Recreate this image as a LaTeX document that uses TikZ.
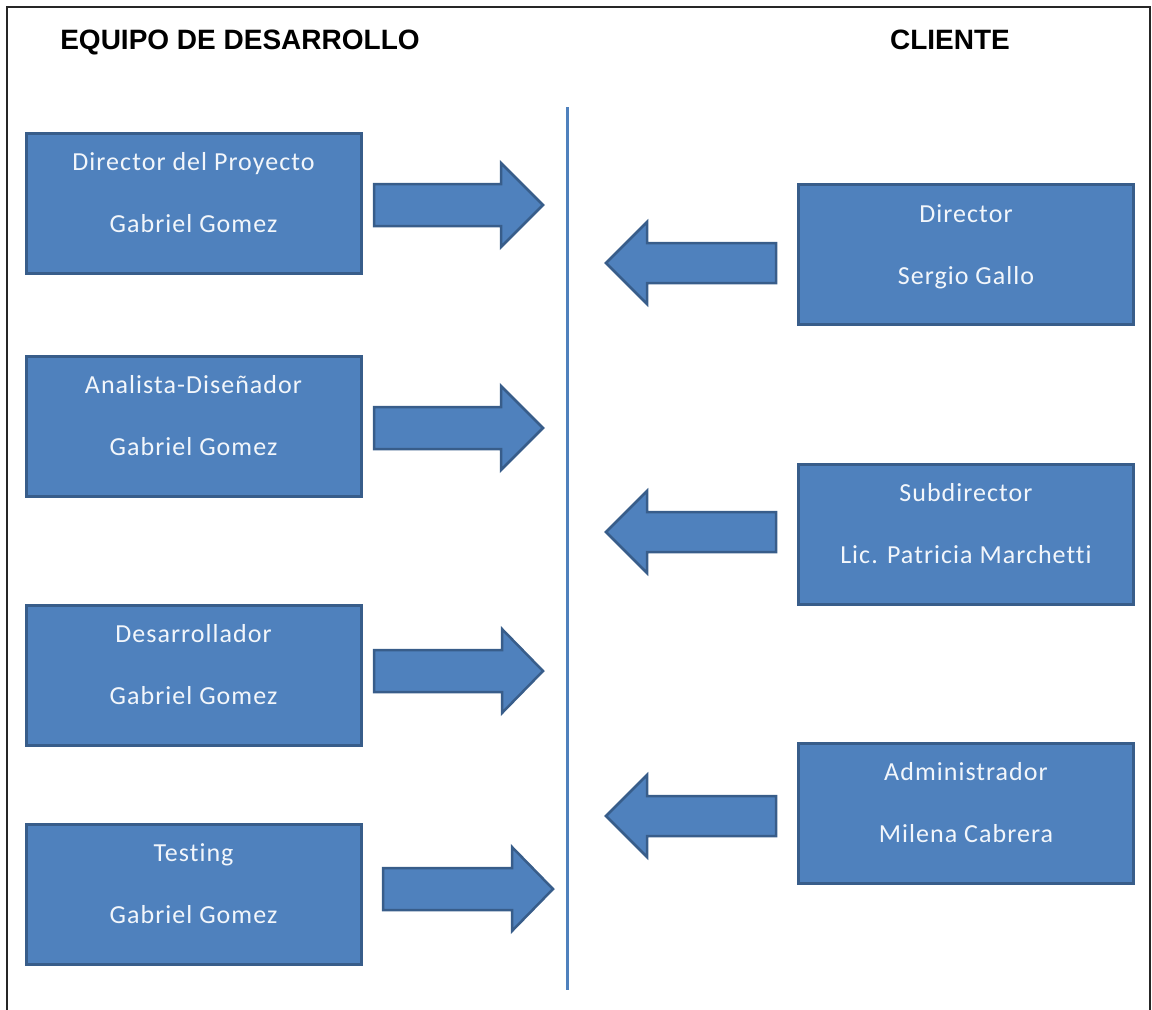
\documentclass[tikz,border=0pt]{standalone}
\usepackage{fontspec}
\setmainfont{Carlito}
\newfontfamily\boxfont{Carlito}[LetterSpace=4,Ligatures={NoCommon,NoRequired,NoContextual}]
\newfontfamily\titlefont{Liberation Sans}
\definecolor{boxfill}{HTML}{4F81BD}
\definecolor{boxline}{HTML}{385D8A}
\definecolor{boxtext}{HTML}{F2F6FB}
\newcommand{\twolines}[2]{\raisebox{1pt}[0pt][0pt]{\begin{tabular}{@{}c@{}}#1\\[31pt]#2\end{tabular}}}
\begin{document}
\begin{tikzpicture}[x=1pt,y=-1pt,
  rolebox/.style={draw=boxline,fill=boxfill,line width=3pt,minimum width=335pt,minimum height=140pt,
    text=boxtext,font=\boxfont\fontsize{26}{31}\selectfont,inner sep=0pt},
  blockarrow/.style={draw=boxline,fill=boxfill,line width=2.5pt,line join=miter},
  heading/.style={font=\titlefont\bfseries\fontsize{28}{30}\selectfont,text=black,anchor=base}]
\useasboundingbox (0,0) rectangle (1152,1010);
\draw[line width=1.6pt,black!85] (7,1010) -- (7,7) -- (1150,7) -- (1150,1010);
\node[heading] (tleft) at (240,49) {EQUIPO DE DESARROLLO};
\node[heading] (tright) at (950,49) {CLIENTE};
\coordinate (ltop) at (567,107);
\coordinate (lbot) at (567,990);
\draw[boxfill,line width=3pt] (ltop) -- (lbot);
% left boxes
\node[rolebox] (d1) at (193.5,203) {\twolines{Director del Proyecto}{Gabriel Gomez}};
\node[rolebox] (d2) at (193.5,426) {\twolines{Analista-Diseñador}{Gabriel Gomez}};
\node[rolebox] (d3) at (193.5,675) {\twolines{Desarrollador}{Gabriel Gomez}};
\node[rolebox] (d4) at (193.5,894) {\twolines{Testing}{Gabriel Gomez}};
% right boxes
\node[rolebox] (c1) at (966,254.5) {\twolines{Director}{Sergio Gallo}};
\node[rolebox] (c2) at (966,534) {\twolines{Subdirector}{Lic. Patricia Marchetti}};
\node[rolebox] (c3) at (966,813) {\twolines{Administrador}{Milena Cabrera}};
% block arrows: tail x, centre y, head base x, tip x
\newcommand{\rightblock}[4]{%
  \draw[blockarrow] (#1,#2-21) -- (#3,#2-21) -- (#3,#2-42) -- (#4,#2) -- (#3,#2+42) -- (#3,#2+21) -- (#1,#2+21) -- cycle;}
\newcommand{\leftblock}[4]{%
  \draw[blockarrow] (#1,#2-20) -- (#3,#2-20) -- (#3,#2-41) -- (#4,#2) -- (#3,#2+41) -- (#3,#2+20) -- (#1,#2+20) -- cycle;}
\rightblock{374}{205}{501}{543}
\rightblock{374}{428}{501}{543}
\rightblock{374}{671}{502}{543}
\rightblock{383}{889}{512}{553}
\leftblock{776}{263}{647}{606}
\leftblock{776}{532}{647}{606}
\leftblock{776}{816}{647}{606}
\end{tikzpicture}
\end{document}
